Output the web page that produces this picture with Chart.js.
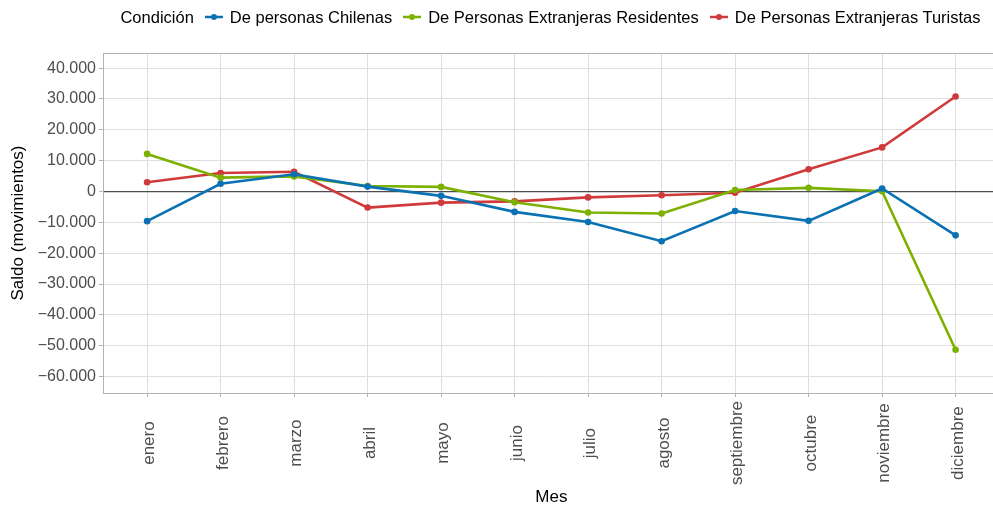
<!DOCTYPE html>
<html>
<head>
<meta charset="utf-8">
<script src="https://cdn.jsdelivr.net/npm/chart.js@4/dist/chart.umd.min.js"></script>
<style>
  html, body { margin: 0; padding: 0; background: #ffffff; overflow: hidden; width: 993px; height: 506px; }
  #wrap { position: relative; width: 1003px; height: 506px; }
  #c { position: absolute; left: 0; top: 0; }
  #legend { position: absolute; top: 6px; left: 103px; width: 895px; height: 22px;
    display: flex; justify-content: center; align-items: center;
    font-family: "Liberation Sans", Arial, sans-serif; font-size: 16.5px; color: #000; white-space: nowrap; }
  #legend .title { margin-right: 11px; }
  #legend .item { display: flex; align-items: center; margin-right: 11px; }
  #legend .item:last-child { margin-right: 0; }
  #legend svg { margin-right: 7px; }
</style>
</head>
<body>
<div id="wrap">
  <canvas id="c" width="1003" height="506" style="width:1003px;height:506px"></canvas>
  <div id="legend"></div>
</div>
<script>
// ---- Data ----
const months = ["enero","febrero","marzo","abril","mayo","junio","julio","agosto","septiembre","octubre","noviembre","diciembre"];
const chilenas    = [-9600, 2500, 5600, 1600, -1400, -6600, -9900, -16100, -6300, -9500, 1000, -14200];
const residentes  = [12200, 4500, 4900, 1800, 1500, -3500, -6800, -7100, 500, 1200, 100, -51300];
const turistas    = [3000, 6000, 6400, -5200, -3600, -3200, -1900, -1200, -400, 7200, 14300, 30800];
const seriesNames = ["De personas Chilenas", "De Personas Extranjeras Residentes", "De Personas Extranjeras Turistas"];
const seriesColors = ["#0a72b2", "#7cb100", "#d13a3a"];
const legendTitle = "Condición";
const yTickValues = [-60000,-55000,-50000,-45000,-40000,-35000,-30000,-25000,-20000,-15000,-10000,-5000,0,5000,10000,15000,20000,25000,30000,35000,40000];

const seriesValues = [chilenas, residentes, turistas];

function fmt(v) {
  const s = Math.abs(v).toString().replace(/\B(?=(\d{3})+(?!\d))/g, ".");
  return (v < 0 ? "\u2212" : "") + s;
}

// HTML legend
const leg = document.getElementById("legend");
const t = document.createElement("span"); t.className = "title"; t.textContent = legendTitle; leg.appendChild(t);
seriesNames.forEach((n, i) => {
  const it = document.createElement("span"); it.className = "item";
  it.innerHTML = '<svg width="18" height="10"><line x1="0" y1="5" x2="18" y2="5" stroke="' + seriesColors[i] + '" stroke-width="2.5"/><circle cx="9" cy="5" r="3" fill="' + seriesColors[i] + '"/></svg>';
  const s = document.createElement("span"); s.textContent = n; it.appendChild(s);
  leg.appendChild(it);
});

const FONT = "'Liberation Sans', Arial, sans-serif";
const X_LABEL_SIZE = 17;

const borderPlugin = {
  id: "panelBorder",
  afterDatasetsDraw(chart) {
    const a = chart.chartArea, ctx = chart.ctx;
    ctx.save();
    ctx.strokeStyle = "#b3b3b3"; ctx.lineWidth = 1;
    ctx.strokeRect(Math.round(a.left) + 0.5, Math.round(a.top) + 0.5, Math.round(a.right - a.left), Math.round(a.bottom - a.top));
    ctx.restore();
  }
};

// Month labels: rotated 90°, centred on a common line (like ggplot hjust = 0.5)
const monthLabelPlugin = {
  id: "monthLabels",
  afterDraw(chart) {
    const sx = chart.scales.x, ctx = chart.ctx;
    ctx.save();
    ctx.font = X_LABEL_SIZE + "px " + FONT;
    ctx.fillStyle = "#4d4d4d";
    let maxW = 0;
    months.forEach(m => { maxW = Math.max(maxW, ctx.measureText(m).width); });
    const cy = chart.chartArea.bottom + 4 + 4 + maxW / 2;
    ctx.textAlign = "center";
    ctx.textBaseline = "alphabetic";
    months.forEach((m, i) => {
      const px = sx.getPixelForValue(i);
      ctx.save();
      ctx.translate(px + 7, cy);
      ctx.rotate(-Math.PI / 2);
      ctx.fillText(m, 0, 0);
      ctx.restore();
    });
    ctx.restore();
  }
};

new Chart(document.getElementById("c"), {
  type: "line",
  data: {
    datasets: seriesNames.map((n, i) => ({
      label: n,
      data: seriesValues[i].map((v, k) => ({ x: k, y: v })),
      borderColor: seriesColors[i],
      backgroundColor: seriesColors[i],
      borderWidth: 2.6,
      pointRadius: 3.3,
      pointHoverRadius: 3.3,
      pointBorderWidth: 0,
      tension: 0,
      fill: false
    }))
  },
  options: {
    responsive: false,
    animation: false,
    devicePixelRatio: 1,
    layout: { padding: { top: 53, left: 0, right: 0, bottom: 0 } },
    plugins: { legend: { display: false }, tooltip: { enabled: false } },
    scales: {
      x: {
        type: "linear",
        min: -0.6, max: 11.6,
        afterBuildTicks(scale) { scale.ticks = months.map((m, i) => ({ value: i })); },
        afterFit(scale) { scale.height = 113; },
        ticks: { display: false, autoSkip: false },
        grid: { color: "#dedede", lineWidth: 1, tickLength: 4, tickColor: "#b3b3b3", drawTicks: true },
        border: { display: false },
        title: { display: true, text: "Mes", color: "#000", font: { family: FONT, size: 17 }, padding: { top: 0, bottom: -2 } }
      },
      y: {
        min: -65300, max: 44900,
        afterBuildTicks(scale) { scale.ticks = yTickValues.map(v => ({ value: v })); },
        afterFit(scale) { scale.width = 103; },
        ticks: {
          color: "#4d4d4d", font: { family: FONT, size: 16 }, padding: 3,
          callback: (v) => (v % 10000 === 0 ? fmt(v) : "")
        },
        grid: {
          color: (c) => (c.tick && c.tick.value === 0 ? "#4d4d4d" : (c.tick && c.tick.value % 10000 === 0 ? "#dedede" : "#ebebeb")),
          lineWidth: (c) => (c.tick && c.tick.value === 0 ? 1.2 : (c.tick && c.tick.value % 10000 === 0 ? 1 : 0.7)),
          tickLength: 4,
          tickColor: (c) => (c.tick && c.tick.value % 10000 === 0 ? "#b3b3b3" : "rgba(0,0,0,0)"),
          tickWidth: 1
        },
        border: { display: false },
        title: { display: true, text: "Saldo (movimientos)", color: "#000", font: { family: FONT, size: 17 }, padding: { top: 8, bottom: 0 } }
      }
    }
  },
  plugins: [borderPlugin, monthLabelPlugin]
});
</script>
</body>
</html>
